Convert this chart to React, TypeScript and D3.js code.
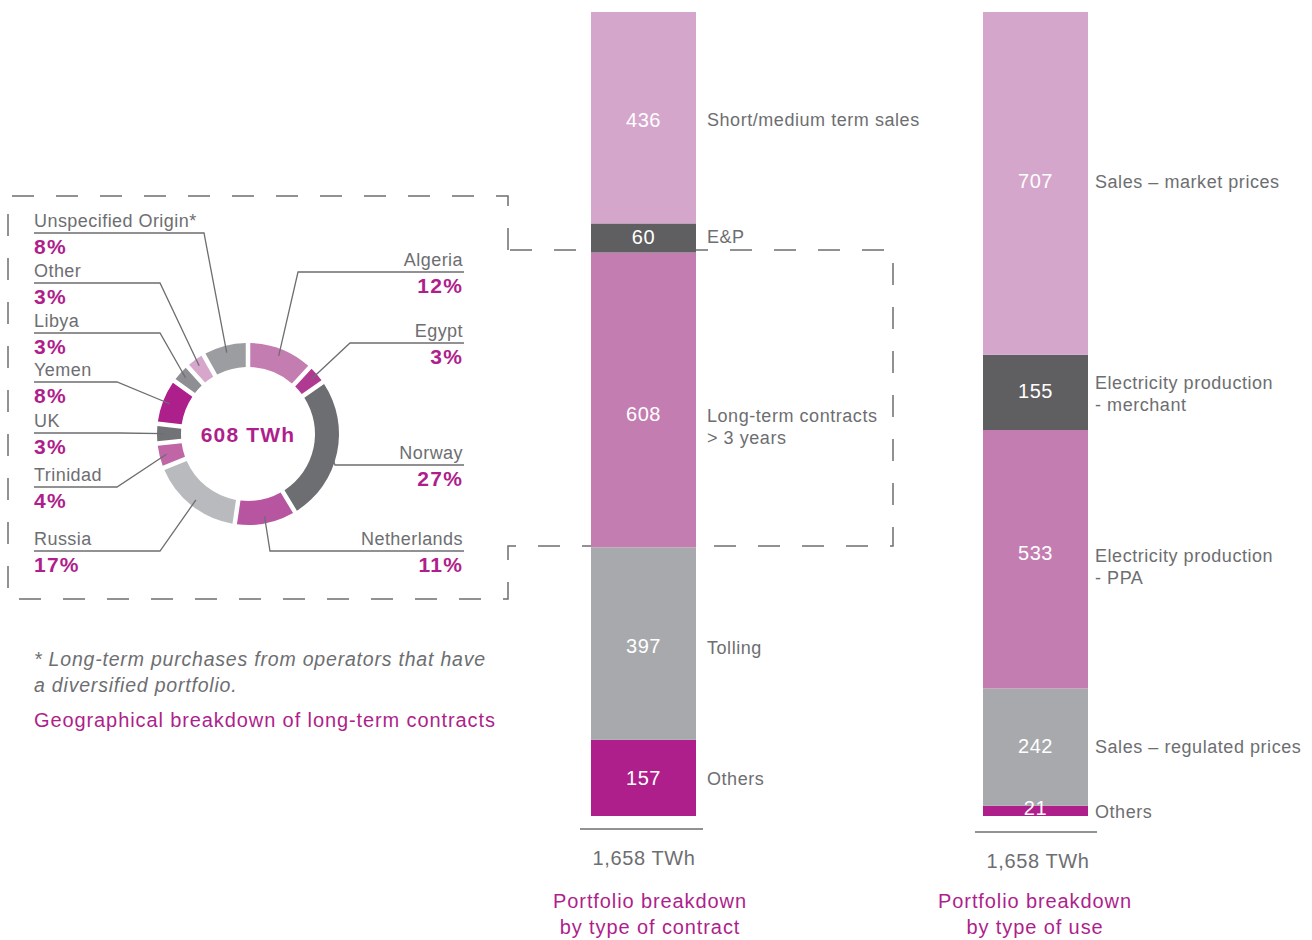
import React from 'react';
import * as d3 from 'd3';

// ---------- DATA ----------
const originNames = ['Algeria', 'Egypt', 'Norway', 'Netherlands', 'Russia', 'Trinidad', 'UK', 'Yemen', 'Libya', 'Other', 'Unspecified Origin*'];
const originShares = [12, 3, 27, 11, 17, 4, 3, 8, 3, 3, 8];
const donutCenterLabel = '608 TWh';

const contractCategories = ['Others', 'Tolling', 'Long-term contracts\n> 3 years', 'E&P', 'Short/medium term sales'];
const contractValues = [157, 397, 608, 60, 436];
const useCategories = ['Others', 'Sales – regulated prices', 'Electricity production\n- PPA', 'Electricity production\n- merchant', 'Sales – market prices'];
const useValues = [21, 242, 533, 155, 707];
const barTotalLabel = '1,658 TWh';
const contractTitle = ['Portfolio breakdown', 'by type of contract'];
const useTitle = ['Portfolio breakdown', 'by type of use'];
const footnote = ['* Long-term purchases from operators that have', 'a diversified portfolio.'];
const donutTitle = 'Geographical breakdown of long-term contracts';

// ---------- STYLE / LAYOUT ----------
const FONT = '"Liberation Sans", Arial, Helvetica, sans-serif';
const GREY_TEXT = '#6d6e71';
const MAGENTA = '#ae1f8c';
const originColors = ['#c47db1', '#b03991', '#6d6e71', '#b755a0', '#b9babd', '#c066a6', '#727376', '#ad1f8b', '#8e8f92', '#d6a6cb', '#9c9da0'];
const barColors = ['#ae1f8c', '#a8a9ad', '#c47db1', '#5f5f62', '#d5a6cb'];

const labelLayout: Record<string, { side: 'L' | 'R'; lineY: number; elbowX: number }> = {
  'Unspecified Origin*': { side: 'L', lineY: 233, elbowX: 204 },
  Other: { side: 'L', lineY: 283, elbowX: 160 },
  Libya: { side: 'L', lineY: 333, elbowX: 160 },
  Yemen: { side: 'L', lineY: 382, elbowX: 117 },
  UK: { side: 'L', lineY: 433, elbowX: 120 },
  Trinidad: { side: 'L', lineY: 487, elbowX: 117 },
  Russia: { side: 'L', lineY: 551, elbowX: 160 },
  Algeria: { side: 'R', lineY: 272, elbowX: 298 },
  Egypt: { side: 'R', lineY: 343, elbowX: 350 },
  Norway: { side: 'R', lineY: 465, elbowX: 335 },
  Netherlands: { side: 'R', lineY: 551, elbowX: 270 },
};

const contractValueDy = [0, 2, 14, -1, 2];
const contractLabelDy = [1, 4, 16, -1, 2];
const useValueDy = [-3, -1, -6, -1, -2];
const useLabelDy = [1, 0, -3, -9, -1];

const CX = 248;
const CY = 434;
const R_OUT = 91;
const R_IN = 67;

const yScale = d3.scaleLinear().domain([0, d3.sum(contractValues)]).range([816, 12]);

function StackBar({ x, width, values, cats, valueDy, labelDy, labelGap }: any) {
  let acc = 0;
  const segs = values.map((v: number, i: number) => {
    const y0 = acc;
    acc += v;
    const top = yScale(acc);
    const bot = yScale(y0);
    return { v, i, top, bot, mid: (top + bot) / 2 };
  });
  return (
    <g>
      {segs.map((s: any) => (
        <rect key={'r' + s.i} x={x} y={s.top} width={width} height={s.bot - s.top} fill={barColors[s.i]} />
      ))}
      {segs.map((s: any) => {
        const lines = String(cats[s.i]).split('\n');
        return (
          <g key={'t' + s.i}>
            <text x={x + width / 2} y={s.mid + valueDy[s.i]} textAnchor="middle" dominantBaseline="central" fill="#fff" fontSize={20} letterSpacing={0.6} fontFamily={FONT}>
              {s.v}
            </text>
            {lines.map((ln: string, k: number) => (
              <text key={k} x={x + width + labelGap} y={s.mid + labelDy[s.i] + k * 22} dominantBaseline="central" fill={GREY_TEXT} fontSize={18} letterSpacing={0.55} fontFamily={FONT}>
                {ln}
              </text>
            ))}
          </g>
        );
      })}
    </g>
  );
}

export default function App() {
  const pie = d3.pie<number>().sort(null).value((d) => d).padAngle(0.04);
  const arcs = pie(originShares);
  const arcGen = d3.arc<d3.PieArcDatum<number>>().innerRadius(R_IN).outerRadius(R_OUT);

  const dashPath = 'M508,250 L508,196 L8,196 L8,599 L508,599 L508,546 L893,546 L893,250 Z';

  return (
    <svg width={1312} height={940} style={{ position: 'absolute', left: 0, top: 0, background: '#fff' }}>
      <path d={dashPath} fill="none" stroke={GREY_TEXT} strokeWidth={1.5} strokeDasharray="22 22" />

      {/* Donut */}
      <g transform={`translate(${CX},${CY})`}>
        {arcs.map((a, i) => (
          <path key={i} d={arcGen(a) || ''} fill={originColors[i]} />
        ))}
      </g>
      <text x={CX} y={CY} textAnchor="middle" dominantBaseline="central" fill={MAGENTA} fontSize={21} fontWeight="bold" letterSpacing={1.2} fontFamily={FONT}>
        {donutCenterLabel}
      </text>

      {/* Donut labels */}
      {arcs.map((a, i) => {
        const name = originNames[i];
        const lay = labelLayout[name];
        const ang = (a.startAngle + a.endAngle) / 2;
        const px = CX + 84 * Math.sin(ang);
        const py = CY - 84 * Math.cos(ang);
        const left = lay.side === 'L';
        const xEnd = left ? 34 : 464;
        const pts = `${xEnd},${lay.lineY} ${lay.elbowX},${lay.lineY} ${px},${py}`;
        return (
          <g key={name}>
            <polyline points={pts} fill="none" stroke={GREY_TEXT} strokeWidth={1.3} />
            <text x={left ? 34 : 463} y={lay.lineY - 6} textAnchor={left ? 'start' : 'end'} fill={GREY_TEXT} fontSize={18} letterSpacing={0.45} fontFamily={FONT}>
              {name}
            </text>
            <text x={left ? 34 : 463} y={lay.lineY + 21} textAnchor={left ? 'start' : 'end'} fill={MAGENTA} fontSize={21} fontWeight="bold" letterSpacing={1.2} fontFamily={FONT}>
              {originShares[i]}%
            </text>
          </g>
        );
      })}

      {/* Footnote & title */}
      <text x={34} y={666} fill={GREY_TEXT} fontSize={19.5} fontStyle="italic" letterSpacing={0.8} fontFamily={FONT}>{footnote[0]}</text>
      <text x={34} y={692} fill={GREY_TEXT} fontSize={19.5} fontStyle="italic" letterSpacing={0.8} fontFamily={FONT}>{footnote[1]}</text>
      <text x={34} y={727} fill={MAGENTA} fontSize={20} letterSpacing={0.9} fontFamily={FONT}>{donutTitle}</text>

      {/* Bars */}
      <StackBar x={591} width={105} values={contractValues} cats={contractCategories} valueDy={contractValueDy} labelDy={contractLabelDy} labelGap={11} />
      <StackBar x={983} width={105} values={useValues} cats={useCategories} valueDy={useValueDy} labelDy={useLabelDy} labelGap={7} />

      {/* Bar totals */}
      <line x1={580} x2={703} y1={829} y2={829} stroke={GREY_TEXT} strokeWidth={1.3} />
      <text x={644} y={865} textAnchor="middle" fill={GREY_TEXT} fontSize={20} letterSpacing={0.6} fontFamily={FONT}>{barTotalLabel}</text>
      <line x1={975} x2={1097} y1={832} y2={832} stroke={GREY_TEXT} strokeWidth={1.3} />
      <text x={1038} y={868} textAnchor="middle" fill={GREY_TEXT} fontSize={20} letterSpacing={0.6} fontFamily={FONT}>{barTotalLabel}</text>

      {contractTitle.map((t, k) => (
        <text key={t} x={650} y={908 + k * 26} textAnchor="middle" fill={MAGENTA} fontSize={20} letterSpacing={0.9} fontFamily={FONT}>{t}</text>
      ))}
      {useTitle.map((t, k) => (
        <text key={t} x={1035} y={908 + k * 26} textAnchor="middle" fill={MAGENTA} fontSize={20} letterSpacing={0.9} fontFamily={FONT}>{t}</text>
      ))}
    </svg>
  );
}
